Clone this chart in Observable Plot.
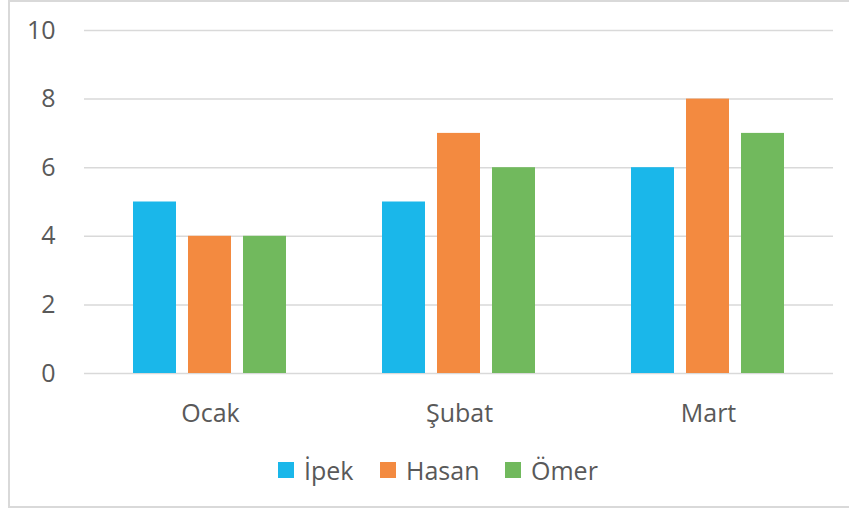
<!DOCTYPE html>
<html>
<head>
<meta charset="utf-8">
<script src="https://cdn.jsdelivr.net/npm/d3@7"></script>
<script src="https://cdn.jsdelivr.net/npm/@observablehq/plot@0.6"></script>
<style>
  html, body { margin: 0; padding: 0; background: #fff; }
  body { width: 849px; height: 514px; position: relative; overflow: hidden; font-family: "Open Sans", "Noto Sans", sans-serif; }
  #frame { position: absolute; left: 8px; top: 0px; width: 860px; height: 508px; border: 2px solid #d9d9d9; box-sizing: border-box; }
  .layer { position: absolute; left: 0; top: 0; }
  #legend { position: absolute; top: 452px; left: 0; width: 849px; height: 36px; }
  .item { position: absolute; display: flex; align-items: center; height: 36px; font-size: 25px; color: #595959; white-space: nowrap; }
  .sw { width: 16px; height: 16px; margin-right: 10px; }
</style>
</head>
<body>
<div id="frame"></div>
<div id="grid" class="layer"></div>
<div id="bars" class="layer"></div>
<div id="legend"></div>
<script>
const months = ["Ocak", "Şubat", "Mart"];
const seriesNames = ["İpek", "Hasan", "Ömer"];
const ipek  = [5, 5, 6];
const hasan = [4, 7, 8];
const omer  = [4, 6, 7];
const colors = ["#1ab7ea", "#f38a40", "#71b95d"];
const yTicks = [0, 2, 4, 6, 8, 10];

const seriesValues = [ipek, hasan, omer];
const data = [];
months.forEach((m, i) => {
  seriesNames.forEach((s, j) => data.push({month: m, name: s, value: seriesValues[j][i]}));
});

const textColor = "#595959";
const common = {
  width: 849,
  height: 440,
  marginLeft: 84,
  marginRight: 16,
  marginTop: 30,
  marginBottom: 67,
  style: {fontFamily: "'Open Sans', 'Noto Sans', sans-serif", fontSize: "25px", color: textColor, background: "transparent"},
  y: {domain: [0, 10], label: null}
};

// layer 1: gridlines and y axis across the whole plot width
const gridPlot = Plot.plot({
  ...common,
  x: {domain: [0, 1], axis: null},
  marks: [
    Plot.ruleY(yTicks, {stroke: "#d9d9d9", strokeWidth: 1.5}),
    Plot.axisY(yTicks, {tickSize: 0, tickPadding: 29, label: null, fontSize: 25, fill: textColor})
  ]
});
document.getElementById("grid").appendChild(gridPlot);

// layer 2: grouped bars and category axis
const barPlot = Plot.plot({
  ...common,
  fx: {domain: months, paddingInner: 0.383, paddingOuter: 0.1915, label: null, axis: null},
  x: {domain: seriesNames, paddingInner: 0.218, paddingOuter: 0, axis: null},
  y: {domain: [0, 10], label: null, axis: null},
  color: {domain: seriesNames, range: colors},
  marks: [
    Plot.barY(data, {fx: "month", x: "name", y: "value", fill: "name"}),
    Plot.axisFx({anchor: "bottom", tickSize: 0, tickPadding: 31, label: null, fontSize: 25, fill: textColor})
  ]
});
document.getElementById("bars").appendChild(barPlot);

// legend
const legend = document.getElementById("legend");
const lefts = [278, 380, 505];
seriesNames.forEach((s, j) => {
  const it = document.createElement("div");
  it.className = "item";
  it.style.left = lefts[j] + "px";
  it.style.top = "0px";
  const sw = document.createElement("span");
  sw.className = "sw";
  sw.style.background = colors[j];
  const tx = document.createElement("span");
  tx.textContent = s;
  it.appendChild(sw);
  it.appendChild(tx);
  legend.appendChild(it);
});
</script>
</body>
</html>
